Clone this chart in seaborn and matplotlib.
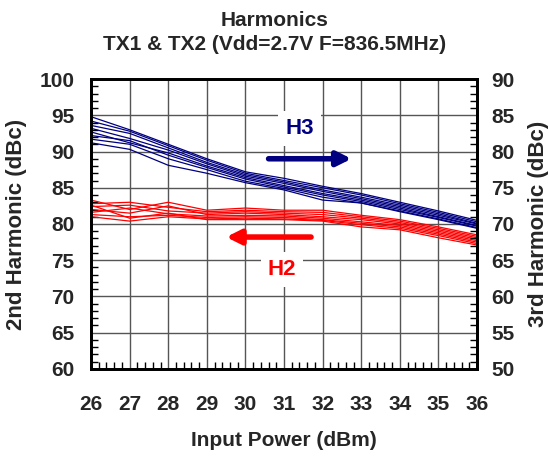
import matplotlib
matplotlib.use("Agg")
import matplotlib.pyplot as plt
from matplotlib.ticker import MultipleLocator
import pandas as pd
import seaborn as sns

# --- data ---
input_power = [26, 27, 28, 29, 30, 31, 32, 33, 34, 35, 36]

# 3rd harmonic, right axis (dBc)
h3_runs = [
    [84.8, 83.0, 81.0, 79.0, 77.2, 76.3, 75.2, 74.2, 73.0, 71.8, 70.5],
    [84.2, 82.8, 80.8, 78.8, 77.0, 76.0, 75.0, 74.0, 72.8, 71.6, 70.3],
    [83.6, 82.5, 80.5, 78.5, 76.8, 75.8, 74.7, 73.7, 72.6, 71.4, 70.1],
    [83.2, 81.8, 80.2, 78.3, 76.6, 75.6, 74.5, 73.5, 72.4, 71.2, 70.0],
    [82.7, 81.2, 79.8, 78.0, 76.4, 75.3, 74.2, 73.3, 72.2, 71.0, 69.8],
    [82.2, 81.5, 79.5, 77.8, 76.2, 75.1, 74.0, 73.1, 72.0, 70.9, 69.7],
    [81.7, 81.0, 79.0, 77.5, 75.9, 74.9, 73.7, 72.9, 71.8, 70.7, 69.5],
    [81.2, 80.3, 78.1, 77.0, 75.7, 74.7, 73.3, 72.9, 71.7, 70.6, 69.4],
]

# 2nd harmonic, left axis (dBc)
h2_runs = [
    [83.3, 82.0, 83.0, 81.9, 82.2, 81.9, 81.9, 81.2, 80.6, 79.6, 78.5],
    [82.8, 83.0, 82.3, 81.7, 81.9, 81.7, 81.6, 81.0, 80.4, 79.4, 78.3],
    [82.4, 82.6, 81.8, 81.5, 81.7, 81.5, 81.3, 80.8, 80.2, 79.2, 78.1],
    [82.0, 81.5, 82.5, 81.3, 81.5, 81.3, 81.0, 80.6, 80.0, 79.0, 77.9],
    [81.6, 82.2, 81.4, 81.1, 81.2, 81.1, 80.8, 80.3, 79.8, 78.8, 77.7],
    [81.3, 81.0, 81.2, 80.9, 81.0, 80.9, 80.6, 80.1, 79.6, 78.6, 77.5],
    [81.0, 80.4, 81.0, 80.7, 80.8, 80.7, 80.5, 79.9, 79.4, 78.4, 77.3],
    [82.6, 80.8, 81.5, 80.6, 80.6, 80.6, 80.4, 79.6, 79.2, 78.1, 77.1],
]


def to_long(runs):
    rows = []
    for i, run in enumerate(runs):
        for x, v in zip(input_power, run):
            rows.append({"run": i, "pin": x, "dbc": v})
    return pd.DataFrame(rows)


df_h2 = to_long(h2_runs)
df_h3 = to_long(h3_runs)

sns.set_theme(style="white")
plt.rcParams["font.family"] = ["Liberation Sans", "DejaVu Sans"]
plt.rcParams["font.weight"] = "bold"

NAVY = "#000080"
RED = "#FF0000"
TICK_FS = 15
LABEL_FS = 15

fig = plt.figure(figsize=(5.49, 4.57), dpi=100)
ax = fig.add_axes([0.1658, 0.1926, 0.7031, 0.6345])

sns.lineplot(data=df_h2, x="pin", y="dbc", units="run", estimator=None,
             color=RED, lw=0.9, ax=ax, legend=False)
ax.set_xlim(26, 36)
ax.set_ylim(60, 100)
ax.xaxis.set_major_locator(MultipleLocator(1))
ax.xaxis.set_minor_locator(MultipleLocator(0.2))
ax.yaxis.set_major_locator(MultipleLocator(5))
ax.yaxis.set_minor_locator(MultipleLocator(1))
ax.grid(True, which="major", color="#555555", lw=1.0)
ax.tick_params(axis="x", which="both", bottom=True, top=False)
ax.tick_params(axis="y", which="both", left=True, right=False)
ax.tick_params(axis="both", which="major", direction="in", length=0,
               labelsize=TICK_FS)
ax.tick_params(axis="x", which="major", pad=19)
ax.tick_params(axis="y", which="major", pad=12)
ax.tick_params(axis="both", which="minor", direction="in", length=5,
               width=1.0, color="black")
for s in ax.spines.values():
    s.set_color("black")
    s.set_linewidth(2)
    s.set_zorder(5)
ax.set_xlabel("Input Power (dBm)", fontsize=LABEL_FS, fontweight="bold",
              labelpad=12)
ax.set_ylabel("2nd Harmonic (dBc)", fontsize=16, fontweight="bold",
              labelpad=9)

ax2 = ax.twinx()
sns.lineplot(data=df_h3, x="pin", y="dbc", units="run", estimator=None,
             color=NAVY, lw=0.9, ax=ax2, legend=False)
ax2.set_ylim(50, 90)
ax2.yaxis.set_major_locator(MultipleLocator(5))
ax2.yaxis.set_minor_locator(MultipleLocator(1))
ax2.tick_params(axis="y", which="both", right=True, left=False)
ax2.tick_params(axis="y", which="major", direction="in", length=0,
                labelsize=TICK_FS, pad=10)
ax2.tick_params(axis="y", which="minor", direction="in", length=5,
                width=1.0, color="black")
ax2.set_ylabel("3rd Harmonic (dBc)", fontsize=16, fontweight="bold",
               rotation=90, labelpad=10)
for s in ax2.spines.values():
    s.set_color("black")
    s.set_linewidth(2)

for lab in ax.get_xticklabels() + ax.get_yticklabels() + ax2.get_yticklabels():
    lab.set_fontweight("bold")

# annotations (H3 in right-axis units, H2 in left-axis units)
ax2.text(31.4, 83.2, "H3", color=NAVY, fontsize=16, fontweight="bold",
         ha="center", va="center",
         bbox=dict(facecolor="white", edgecolor="none", pad=5))
ax2.annotate("", xy=(32.75, 79.0), xytext=(30.6, 79.0),
             arrowprops=dict(arrowstyle="-|>,head_length=0.7,head_width=0.35",
                             lw=4, color=NAVY, shrinkA=0, shrinkB=0))
ax2.text(30.95, 73.7, "H2", color=RED, fontsize=16, fontweight="bold",
         ha="center", va="center", transform=ax.transData,
         bbox=dict(facecolor="white", edgecolor="none", pad=5))
ax2.annotate("", xy=(29.5, 78.2), xytext=(31.7, 78.2), xycoords=ax.transData,
             textcoords=ax.transData,
             arrowprops=dict(arrowstyle="-|>,head_length=0.7,head_width=0.35",
                             lw=4, color=RED, shrinkA=0, shrinkB=0))

fig.text(0.5, 0.955, "Harmonics", ha="center", va="center",
         fontsize=LABEL_FS, fontweight="bold")
fig.text(0.5, 0.902, "TX1 & TX2 (Vdd=2.7V F=836.5MHz)", ha="center",
         va="center", fontsize=LABEL_FS, fontweight="bold")

fig.savefig("out.png", dpi=100)
